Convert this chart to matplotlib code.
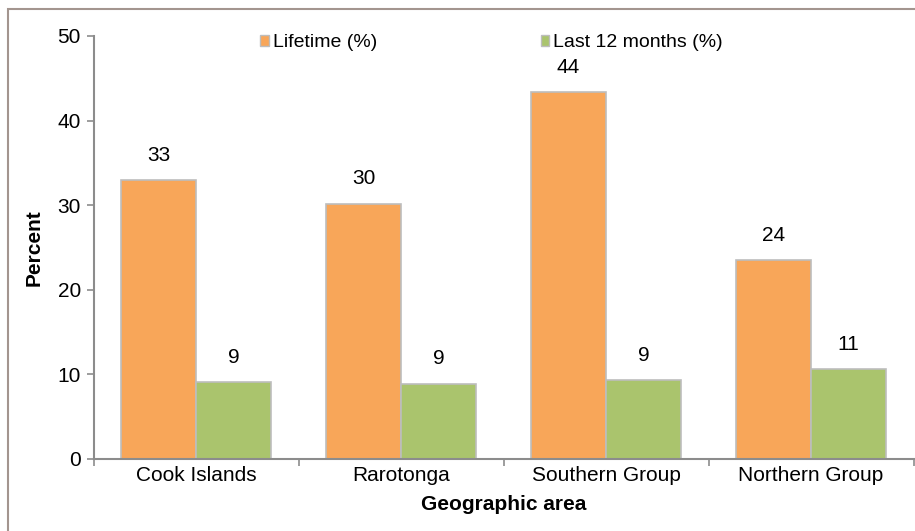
import numpy as np
import matplotlib.pyplot as plt
from matplotlib.patches import Rectangle, Patch

plt.rcParams['font.family'] = ['Liberation Sans', 'DejaVu Sans']

# data
areas = ['Cook Islands', 'Rarotonga', 'Southern Group', 'Northern Group']
lifetime = [33.0, 30.2, 43.4, 23.5]
last12 = [9.1, 8.9, 9.3, 10.6]
lifetime_lbl = ['33', '30', '44', '24']
last12_lbl = ['9', '9', '9', '11']
yticks = [0, 10, 20, 30, 40, 50]

orange = '#F8A659'
green = '#AAC46D'
edge = '#BDBDBD'
axis_col = '#8C8C8C'
fs = 15

fig = plt.figure(figsize=(9.15, 5.31), dpi=100)
W, H = 915, 531
ax = fig.add_axes([93.5 / W, (H - 459) / H, 820 / W, 423 / H])

# outer chart frame (only top/left visible in the reference)
fig.patches.append(Rectangle((8 / W, -0.1), 1.2, (H - 9) / H + 0.1, transform=fig.transFigure,
                             fill=False, edgecolor='#A3958F', linewidth=1.5))

x = np.arange(len(areas))
w = 0.366
b1 = ax.bar(x - w / 2, lifetime, w, color=orange, edgecolor=edge, linewidth=1.2)
b2 = ax.bar(x + w / 2, last12, w, color=green, edgecolor=edge, linewidth=1.2)

for bars, labs in ((b1, lifetime_lbl), (b2, last12_lbl)):
    for r, t in zip(bars, labs):
        ax.annotate(t, (r.get_x() + r.get_width() / 2, r.get_height()),
                    xytext=(0, 11), textcoords='offset points',
                    ha='center', va='bottom', fontsize=fs)

ax.set_xlim(-0.5, 3.5)
ax.set_ylim(0, 50)
ax.set_yticks(yticks)
ax.set_xticks(x)
ax.set_xticklabels(areas, fontsize=fs)
ax.set_xticks(np.arange(-0.5, 4, 1), minor=True)
ax.tick_params(axis='x', which='major', length=0, pad=5)
ax.tick_params(axis='x', which='minor', length=5, color=axis_col, width=1.2)
ax.tick_params(axis='y', length=5, color=axis_col, width=1.2, labelsize=fs, pad=4)

for s in ('top', 'right'):
    ax.spines[s].set_visible(False)
for s in ('left', 'bottom'):
    ax.spines[s].set_color(axis_col)
    ax.spines[s].set_linewidth(1.5)

ax.set_ylabel('Percent', fontsize=fs, fontweight='bold', labelpad=10)
ax.set_xlabel('Geographic area', fontsize=fs, fontweight='bold', labelpad=7)

handles = [Patch(facecolor=orange, edgecolor=edge), Patch(facecolor=green, edgecolor=edge)]
ax.legend(handles, ['Lifetime (%)', 'Last 12 months (%)'], ncol=2, frameon=False,
          loc='upper center', bbox_to_anchor=(0.4854, 1.045), fontsize=14,
          handlelength=0.45, handleheight=0.45, handletextpad=0.2, columnspacing=8.4)

fig.savefig('out.png', dpi=100)
